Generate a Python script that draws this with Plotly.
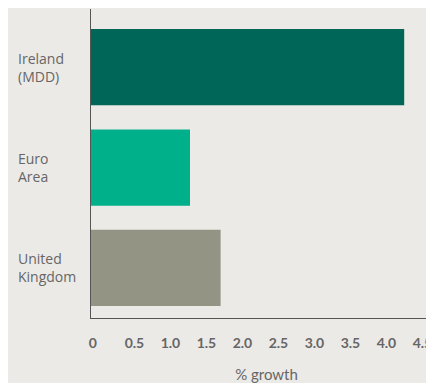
import plotly.graph_objects as go

categories = ["Ireland (MDD)", "Euro Area", "United Kingdom"]
label_lines = ["Ireland<br>(MDD)", "Euro<br>Area", "United<br>Kingdom"]
growth = [4.35, 1.375, 1.8]
colors = ["#006657", "#00B08A", "#939484"]
tick_vals = [0, 0.5, 1.0, 1.5, 2.0, 2.5, 3.0, 3.5, 4.0, 4.5]
tick_text = ["0", "0.5", "1.0", "1.5", "2.0", "2.5", "3.0", "3.5", "4.0", "4.5"]

fig = go.Figure(go.Bar(
    x=growth, y=categories, orientation="h",
    marker=dict(color=colors, line=dict(width=0)),
    width=0.76, hoverinfo="skip",
))

for cat, lab in zip(categories, label_lines):
    fig.add_annotation(x=0, xref="x", y=cat, yref="y", text=lab,
                       xanchor="left", align="left", showarrow=False,
                       xshift=-75,
                       font=dict(family="Open Sans", size=14, color="#666666"))

fig.update_layout(
    width=434, height=383,
    margin=dict(l=83, r=0, t=1, b=73, autoexpand=False),
    paper_bgcolor="#ECEAE6", plot_bgcolor="#ECEAE6",
    showlegend=False,
    xaxis=dict(range=[0, 4.875], tickvals=tick_vals, ticktext=tick_text,
               ticklabelposition="outside right", ticklabeloverflow="allow",
               ticklabelstandoff=12, ticklabelshift=-3, automargin=False,
               showgrid=False, zeroline=False, showline=True,
               linecolor="#555555", linewidth=1.3, ticks="", ticklen=0,
               tickfont=dict(family="Lato", size=14, color="#666666", weight="bold"),
               title=dict(text="% growth", standoff=19,
                          font=dict(family="Lato", size=15, color="#666666"))),
    yaxis=dict(categoryorder="array", categoryarray=categories,
               range=[2.5, -0.58], showticklabels=False, automargin=False,
               showgrid=False, zeroline=False, showline=True,
               linecolor="#555555", linewidth=1.3, ticks=""),
)

fig.write_html("out.html")
